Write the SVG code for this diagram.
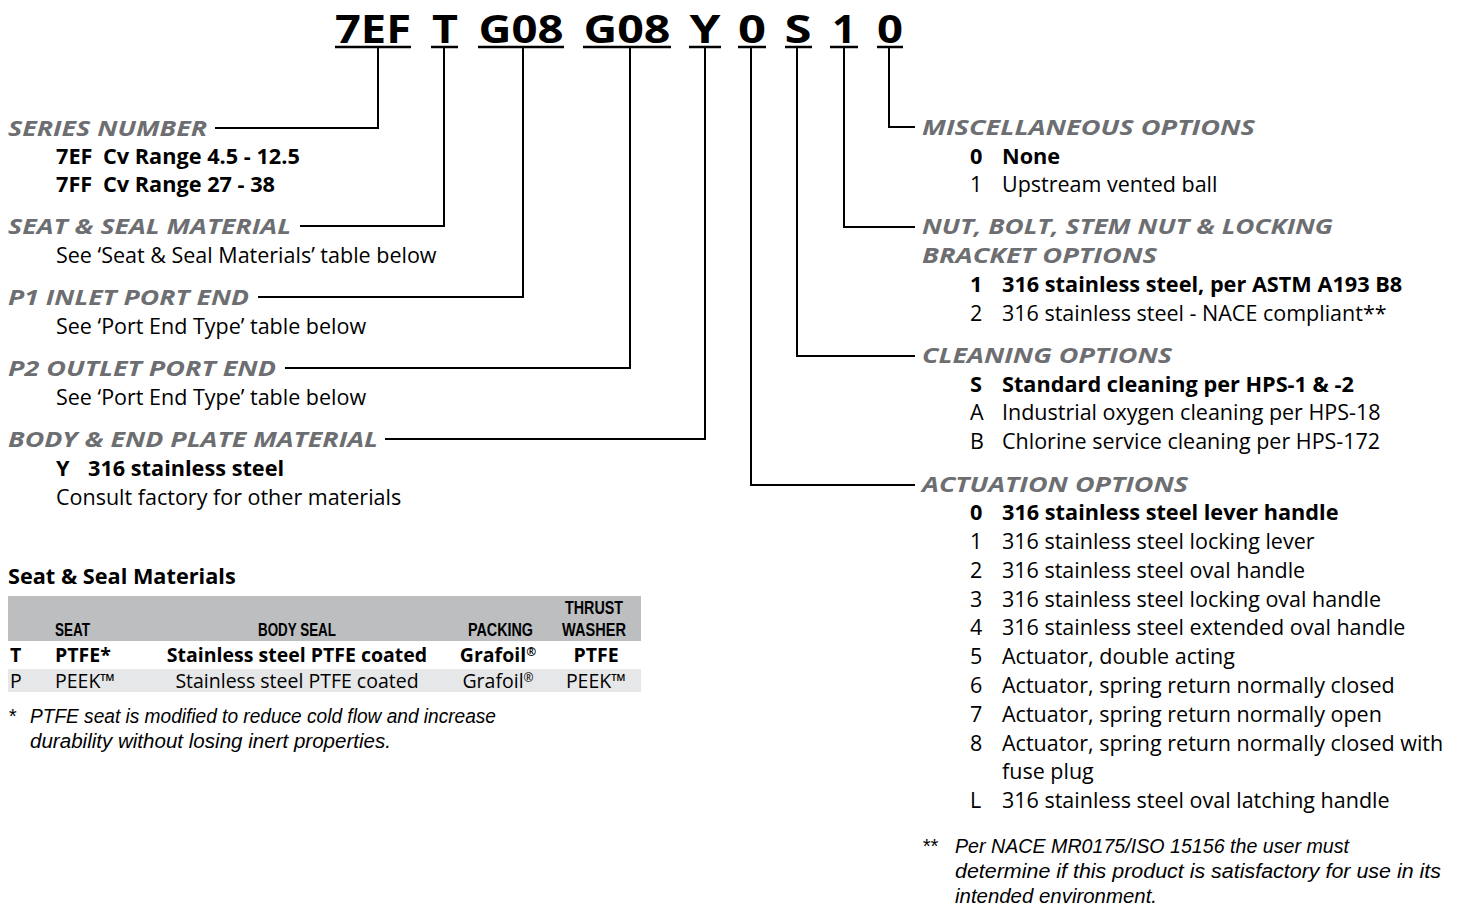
<svg xmlns="http://www.w3.org/2000/svg" width="1458" height="917" viewBox="0 0 1458 917">
<style>
.t{font-family:"Open Sans","Liberation Sans",sans-serif;font-weight:700;font-size:40px;fill:#000;text-anchor:middle}
.h{font-family:"Open Sans","Liberation Sans",sans-serif;font-weight:700;font-style:italic;font-size:21px;fill:#6d6e71}
.b{font-family:"Open Sans","Liberation Sans",sans-serif;font-weight:700;font-size:21.7px;fill:#000}
.r{font-family:"Open Sans","Liberation Sans",sans-serif;font-weight:400;font-size:21.5px;fill:#000}
.i{font-family:"Liberation Sans","Open Sans",sans-serif;font-weight:400;font-style:italic;font-size:20px;fill:#000}
.th{font-family:"Liberation Sans","Open Sans",sans-serif;font-weight:700;font-size:18.5px;fill:#000}
.tb{font-family:"Open Sans","Liberation Sans",sans-serif;font-weight:700;font-size:19.5px;fill:#000}
.tr{font-family:"Open Sans","Liberation Sans",sans-serif;font-weight:400;font-size:19.5px;fill:#000}
.c{fill:none;stroke:#000;stroke-width:2}
.u{stroke:#000;stroke-width:2.5}
</style>

<g id="code">
<text class="t" x="373" y="43" textLength="76" lengthAdjust="spacingAndGlyphs">7EF</text>
<text class="t" x="445" y="43" textLength="26" lengthAdjust="spacingAndGlyphs">T</text>
<text class="t" x="521" y="43" textLength="85" lengthAdjust="spacingAndGlyphs">G08</text>
<text class="t" x="627" y="43" textLength="87" lengthAdjust="spacingAndGlyphs">G08</text>
<text class="t" x="705" y="43" textLength="31" lengthAdjust="spacingAndGlyphs">Y</text>
<text class="t" x="752" y="43" textLength="28" lengthAdjust="spacingAndGlyphs">0</text>
<text class="t" x="798" y="43" textLength="27" lengthAdjust="spacingAndGlyphs">S</text>
<text class="t" x="844" y="43" textLength="24" lengthAdjust="spacingAndGlyphs">1</text>
<text class="t" x="890" y="43" textLength="26" lengthAdjust="spacingAndGlyphs">0</text>
<line class="u" x1="335" y1="47" x2="411" y2="47"/>
<line class="u" x1="431" y1="47" x2="458" y2="47"/>
<line class="u" x1="478" y1="47" x2="564" y2="47"/>
<line class="u" x1="583" y1="47" x2="671" y2="47"/>
<line class="u" x1="689" y1="47" x2="721" y2="47"/>
<line class="u" x1="738" y1="47" x2="766" y2="47"/>
<line class="u" x1="785" y1="47" x2="812" y2="47"/>
<line class="u" x1="830" y1="47" x2="858" y2="47"/>
<line class="u" x1="877" y1="47" x2="903" y2="47"/>
</g>

<g id="connectors">
<polyline class="c" points="215,128 378,128 378,47"/>
<polyline class="c" points="300,226 444,226 444,47"/>
<polyline class="c" points="258,297 523,297 523,47"/>
<polyline class="c" points="285,368 630,368 630,47"/>
<polyline class="c" points="385,439 705,439 705,47"/>
<polyline class="c" points="915,127 889,127 889,47"/>
<polyline class="c" points="915,227 844,227 844,47"/>
<polyline class="c" points="915,356 797,356 797,47"/>
<polyline class="c" points="915,485 751,485 751,47"/>
</g>

<g id="series-number">
<text class="h" x="8" y="136" textLength="199" lengthAdjust="spacingAndGlyphs">SERIES NUMBER</text>
<text class="b" x="56" y="164">7EF<tspan x="103">Cv Range 4.5 - 12.5</tspan></text>
<text class="b" x="56" y="192">7FF<tspan x="103">Cv Range 27 - 38</tspan></text>
</g>

<g id="seat-seal-material">
<text class="h" x="8" y="234" textLength="283" lengthAdjust="spacingAndGlyphs">SEAT &amp; SEAL MATERIAL</text>
<text class="r" x="56" y="263">See ‘Seat &amp; Seal Materials’ table below</text>
</g>

<g id="p1-inlet">
<text class="h" x="8" y="305" textLength="241" lengthAdjust="spacingAndGlyphs">P1 INLET PORT END</text>
<text class="r" x="56" y="334">See ‘Port End Type’ table below</text>
</g>

<g id="p2-outlet">
<text class="h" x="8" y="376" textLength="268" lengthAdjust="spacingAndGlyphs">P2 OUTLET PORT END</text>
<text class="r" x="56" y="405">See ‘Port End Type’ table below</text>
</g>

<g id="body-material">
<text class="h" x="8" y="447" textLength="370" lengthAdjust="spacingAndGlyphs">BODY &amp; END PLATE MATERIAL</text>
<text class="b" x="56" y="476">Y<tspan x="88">316 stainless steel</tspan></text>
<text class="r" x="56" y="505">Consult factory for other materials</text>
</g>

<g id="seat-seal-table">
<text class="b" x="8" y="584" font-size="24.5">Seat &amp; Seal Materials</text>
<rect x="8" y="596" width="633" height="45" fill="#bcbec0"/>
<rect x="8" y="669" width="633" height="23" fill="#e6e7e8"/>
<text class="th" x="55" y="636" textLength="35" lengthAdjust="spacingAndGlyphs">SEAT</text>
<text class="th" x="258" y="636" textLength="78" lengthAdjust="spacingAndGlyphs">BODY SEAL</text>
<text class="th" x="468" y="636" textLength="65" lengthAdjust="spacingAndGlyphs">PACKING</text>
<text class="th" x="565" y="614" textLength="58" lengthAdjust="spacingAndGlyphs">THRUST</text>
<text class="th" x="562" y="636" textLength="64" lengthAdjust="spacingAndGlyphs">WASHER</text>
<text class="tb" x="10" y="662">T</text>
<text class="tb" x="55" y="662">PTFE*</text>
<text class="tb" x="297" y="662" text-anchor="middle">Stainless steel PTFE coated</text>
<text class="tb" x="498" y="662" text-anchor="middle">Grafoil<tspan font-size="12" dy="-6">®</tspan></text>
<text class="tb" x="596" y="662" text-anchor="middle">PTFE</text>
<text class="tr" x="10" y="688">P</text>
<text class="tr" x="55" y="688">PEEK™</text>
<text class="tr" x="297" y="688" text-anchor="middle">Stainless steel PTFE coated</text>
<text class="tr" x="498" y="688" text-anchor="middle">Grafoil<tspan font-size="12" dy="-6">®</tspan></text>
<text class="tr" x="596" y="688" text-anchor="middle">PEEK™</text>
<text class="i" x="8" y="723">*</text>
<text class="i" x="30" y="723" textLength="466" lengthAdjust="spacingAndGlyphs">PTFE seat is modified to reduce cold flow and increase</text>
<text class="i" x="30" y="748" textLength="361" lengthAdjust="spacingAndGlyphs">durability without losing inert properties.</text>
</g>

<g id="misc-options">
<text class="h" x="922" y="135" textLength="333" lengthAdjust="spacingAndGlyphs">MISCELLANEOUS OPTIONS</text>
<text class="b" x="970" y="164">0<tspan x="1002">None</tspan></text>
<text class="r" x="970" y="192">1<tspan x="1002">Upstream vented ball</tspan></text>
</g>

<g id="nut-bolt-options">
<text class="h" x="922" y="234" textLength="411" lengthAdjust="spacingAndGlyphs">NUT, BOLT, STEM NUT &amp; LOCKING</text>
<text class="h" x="922" y="263" textLength="235" lengthAdjust="spacingAndGlyphs">BRACKET OPTIONS</text>
<text class="b" x="970" y="292">1<tspan x="1002">316 stainless steel, per ASTM A193 B8</tspan></text>
<text class="r" x="970" y="321">2<tspan x="1002">316 stainless steel - NACE compliant**</tspan></text>
</g>

<g id="cleaning-options">
<text class="h" x="922" y="363" textLength="250" lengthAdjust="spacingAndGlyphs">CLEANING OPTIONS</text>
<text class="b" x="970" y="392">S<tspan x="1002">Standard cleaning per HPS-1 &amp; -2</tspan></text>
<text class="r" x="970" y="420">A<tspan x="1002">Industrial oxygen cleaning per HPS-18</tspan></text>
<text class="r" x="970" y="449">B<tspan x="1002">Chlorine service cleaning per HPS-172</tspan></text>
</g>

<g id="actuation-options">
<text class="h" x="922" y="492" textLength="266" lengthAdjust="spacingAndGlyphs">ACTUATION OPTIONS</text>
<text class="b" x="970" y="520">0<tspan x="1002">316 stainless steel lever handle</tspan></text>
<text class="r" x="970" y="549">1<tspan x="1002">316 stainless steel locking lever</tspan></text>
<text class="r" x="970" y="578">2<tspan x="1002">316 stainless steel oval handle</tspan></text>
<text class="r" x="970" y="607">3<tspan x="1002">316 stainless steel locking oval handle</tspan></text>
<text class="r" x="970" y="635">4<tspan x="1002">316 stainless steel extended oval handle</tspan></text>
<text class="r" x="970" y="664">5<tspan x="1002">Actuator, double acting</tspan></text>
<text class="r" x="970" y="693">6<tspan x="1002">Actuator, spring return normally closed</tspan></text>
<text class="r" x="970" y="722">7<tspan x="1002">Actuator, spring return normally open</tspan></text>
<text class="r" x="970" y="751">8<tspan x="1002">Actuator, spring return normally closed with</tspan></text>
<text class="r" x="1002" y="779">fuse plug</text>
<text class="r" x="970" y="808">L<tspan x="1002">316 stainless steel oval latching handle</tspan></text>
<text class="i" x="922" y="853">**</text>
<text class="i" x="955" y="853" textLength="394" lengthAdjust="spacingAndGlyphs">Per NACE MR0175/ISO 15156 the user must</text>
<text class="i" x="955" y="878" textLength="486" lengthAdjust="spacingAndGlyphs">determine if this product is satisfactory for use in its</text>
<text class="i" x="955" y="903" textLength="202" lengthAdjust="spacingAndGlyphs">intended environment.</text>
</g>
</svg>
